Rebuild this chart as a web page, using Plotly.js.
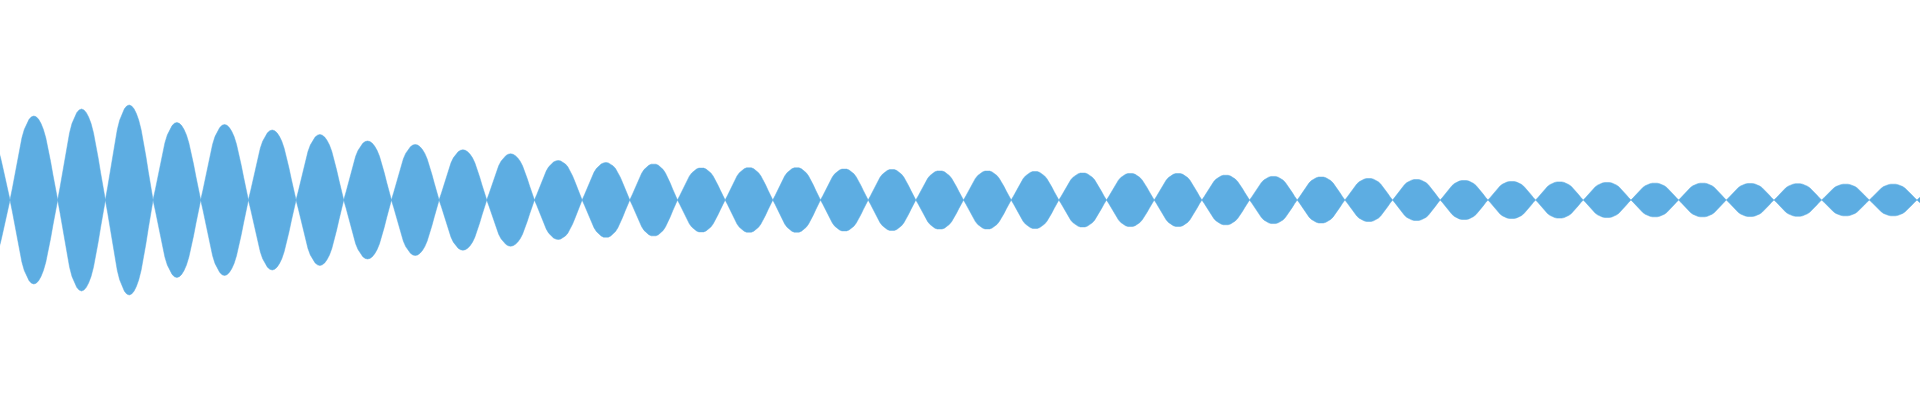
<!DOCTYPE html>
<html>
<head>
<meta charset="utf-8">
<script src="https://cdn.plot.ly/plotly-3.0.1.min.js"></script>
<style>
  html, body { margin: 0; padding: 0; background: white; }
  #wave { width: 1920px; height: 400px; }
</style>
</head>
<body>
<div id="wave"></div>
<script>
// peak half-height of each lobe, lobe k sits between node k-1 and node k
const lobeNodes = [-1, 0, 1, 2, 3, 4, 5, 6, 7, 8, 9, 10, 11, 12, 13, 14, 15, 16, 17, 18, 19, 20,
    21, 22, 23, 24, 25, 26, 27, 28, 29, 30, 31, 32, 33, 34, 35, 36, 37, 38, 39, 40];
const lobePeaks = [70, 84, 91, 95, 77.5, 75.5, 70, 65.5, 59, 55.5, 50.2, 46.2, 39.5, 37.5, 36.2,
    32.2, 32.5, 32.5, 31.2, 30.7, 29.3, 29.2, 28.7, 27.2, 26.8, 26.7, 25, 23.8, 23.2, 21.7,
    20.7, 19.7, 18.7, 18.3, 17.7, 17, 17, 16.7, 16.5, 16, 16, 16];

// outline of one lobe (position within lobe -> share of peak)
const profileAt = [0, 0.05, 0.1, 0.15, 0.2, 0.25, 0.3, 0.35, 0.4, 0.45, 0.5,
    0.55, 0.6, 0.65, 0.7, 0.75, 0.8, 0.85, 0.9, 0.95, 1];
const profileHeight = [0, 0.14, 0.3, 0.46, 0.61, 0.74, 0.84, 0.91, 0.96, 0.99, 1,
    0.99, 0.96, 0.91, 0.84, 0.74, 0.61, 0.46, 0.3, 0.14, 0];

const waveColor = '#5dade2';

const xs = [];
const upper = [];
const lower = [];
lobeNodes.forEach((start, i) => {
    profileAt.forEach((f, j) => {
        xs.push(start + f);
        upper.push(lobePeaks[i] * profileHeight[j]);
        lower.push(-lobePeaks[i] * profileHeight[j]);
    });
});

const traces = [
    {
        x: xs,
        y: lower,
        type: 'scatter',
        mode: 'lines',
        line: { color: waveColor, width: 0.5 },
        hoverinfo: 'skip'
    },
    {
        x: xs,
        y: upper,
        type: 'scatter',
        mode: 'lines',
        fill: 'tonexty',
        fillcolor: waveColor,
        line: { color: waveColor, width: 0.5 },
        hoverinfo: 'skip'
    }
];

const layout = {
    width: 1920,
    height: 400,
    plot_bgcolor: 'white',
    paper_bgcolor: 'white',
    margin: { l: 0, r: 0, t: 0, b: 0, pad: 0 },
    showlegend: false,
    xaxis: {
        range: [-0.21, 40.063],
        visible: false,
        showgrid: false,
        zeroline: false
    },
    yaxis: {
        range: [-200, 200],
        visible: false,
        showgrid: false,
        zeroline: false
    }
};

Plotly.newPlot('wave', traces, layout, { displayModeBar: false, staticPlot: true });
</script>
</body>
</html>
